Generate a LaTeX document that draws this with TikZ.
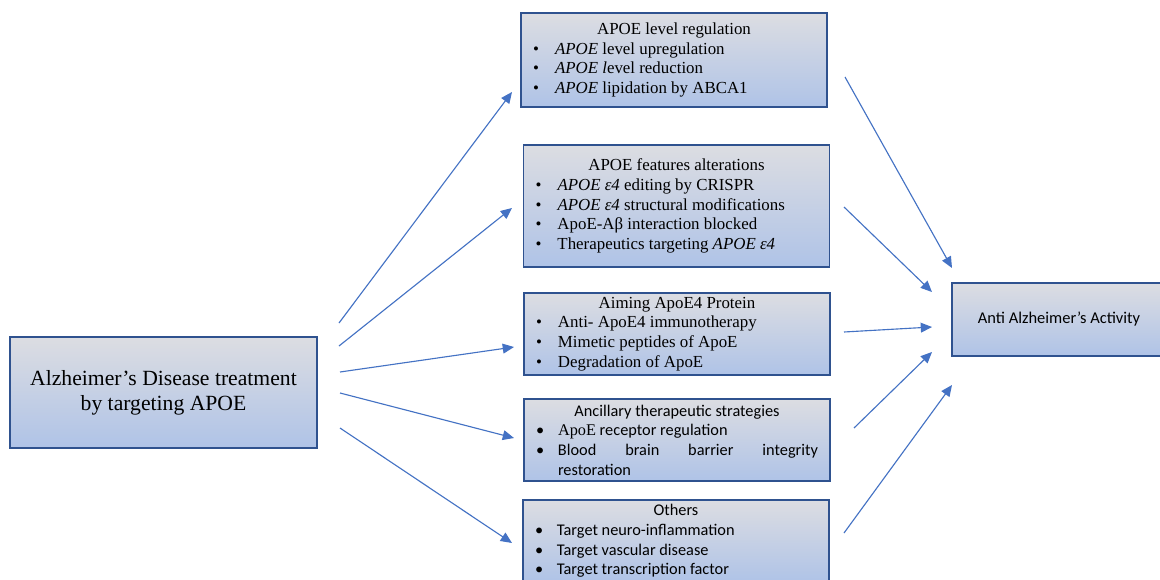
\documentclass[tikz,border=0pt]{standalone}
\usepackage{fontspec}
\setmainfont{Liberation Serif}
\newfontfamily\calibri{Carlito}
\usetikzlibrary{arrows.meta}
\definecolor{apoeLine}{HTML}{2F528F}
\definecolor{apoeTop}{HTML}{DCDDE2}
\definecolor{apoeBot}{HTML}{AFC3E7}
\definecolor{apoeArrow}{HTML}{4472C4}
\newlength{\pxl}
\setlength{\pxl}{0.025cm}
\newcommand{\bitem}[1]{\noindent\hangindent=22\pxl\hangafter=1\makebox[22\pxl][l]{\textbullet}#1\par}
\tikzset{
  boxbase/.style={rectangle,draw=apoeLine,line width=1.2pt,top color=apoeTop,bottom color=apoeBot},
  catbox/.style={boxbase,text width=282*\pxl,inner xsep=12*\pxl,inner ysep=2pt,
    minimum height=82*\pxl,align=justify,font=\fontsize{12}{14}\selectfont},
  catsans/.style={catbox,font=\calibri\fontsize{11.6}{14}\selectfont},
  mainbox/.style={boxbase,minimum width=307*\pxl,minimum height=111*\pxl,align=center,
    font=\fontsize{15.4}{18}\selectfont},
  endbox/.style={boxbase,minimum width=214*\pxl,minimum height=73*\pxl,align=center,
    font=\calibri\fontsize{11.7}{14}\selectfont},
  arrow/.style={-{Triangle[length=8pt,width=7pt]},draw=apoeArrow,line width=0.8pt}
}
\begin{document}
\begin{tikzpicture}[x=0.025cm,y=-0.025cm]
  \fill[white] (0,0) rectangle (1160,580);
  \useasboundingbox (0,0) rectangle (1160,580);
  \clip (0,0) rectangle (1160,580);
  % source and target
  \node[mainbox] (src) at (163.5,392.5) {Alzheimer’s Disease treatment\\by targeting APOE};
  \node[endbox] (act) at (1059,319.5) {Anti Alzheimer’s Activity};
  % strategy boxes
  \node[catbox,minimum height=94*\pxl] (lvl) at (674,60) {{\centering APOE level regulation\par}
    \bitem{\textit{APOE} level upregulation}
    \bitem{\textit{APOE l}evel reduction}
    \bitem{\textit{APOE} lipidation by ABCA1}};
  \node[catbox,minimum height=122*\pxl] (feat) at (676.5,206) {{\centering APOE features alterations\par}
    \bitem{\textit{APOE ε4} editing by CRISPR}
    \bitem{\textit{APOE ε4} structural modifications}
    \bitem{ApoE-Aβ interaction blocked}
    \bitem{Therapeutics targeting \textit{APOE ε4}}};
  \node[catbox] (prot) at (677,334) {{\centering Aiming ApoE4 Protein\par}
    \bitem{Anti- ApoE4 immunotherapy}
    \bitem{Mimetic peptides of ApoE}
    \bitem{Degradation of ApoE}};
  \node[catsans] (anc) at (677,440) {{\centering Ancillary therapeutic strategies\par}
    \bitem{{\rmfamily ApoE} receptor regulation}
    \bitem{Blood brain barrier integrity\linebreak restoration}};
  \node[catsans] (oth) at (676,541) {{\centering Others\par}
    \bitem{Target neuro-inflammation}
    \bitem{Target vascular disease}
    \bitem{Target transcription factor}};
  % arrow ends, left fan
  \coordinate (s-lvl) at (339,323);  \coordinate (e-lvl) at (512,92);
  \coordinate (s-feat) at (339,346); \coordinate (e-feat) at (512,208);
  \coordinate (s-prot) at (340,372); \coordinate (e-prot) at (514,347);
  \coordinate (s-anc) at (340,393);  \coordinate (e-anc) at (514,438);
  \coordinate (s-oth) at (340,428);  \coordinate (e-oth) at (512,543);
  % arrow ends, right fan
  \coordinate (r-lvl) at (845,77);   \coordinate (a-lvl) at (952,268);
  \coordinate (r-feat) at (844,207); \coordinate (a-feat) at (932,292);
  \coordinate (r-prot) at (844,332); \coordinate (a-prot) at (932,327);
  \coordinate (r-anc) at (854,428);  \coordinate (a-anc) at (932,352);
  \coordinate (r-oth) at (844,533);  \coordinate (a-oth) at (952,385);
  \draw[arrow] (s-lvl) -- (e-lvl);
  \draw[arrow] (s-feat) -- (e-feat);
  \draw[arrow] (s-prot) -- (e-prot);
  \draw[arrow] (s-anc) -- (e-anc);
  \draw[arrow] (s-oth) -- (e-oth);
  \draw[arrow] (r-lvl) -- (a-lvl);
  \draw[arrow] (r-feat) -- (a-feat);
  \draw[arrow] (r-prot) -- (a-prot);
  \draw[arrow] (r-anc) -- (a-anc);
  \draw[arrow] (r-oth) -- (a-oth);
\end{tikzpicture}
\end{document}
